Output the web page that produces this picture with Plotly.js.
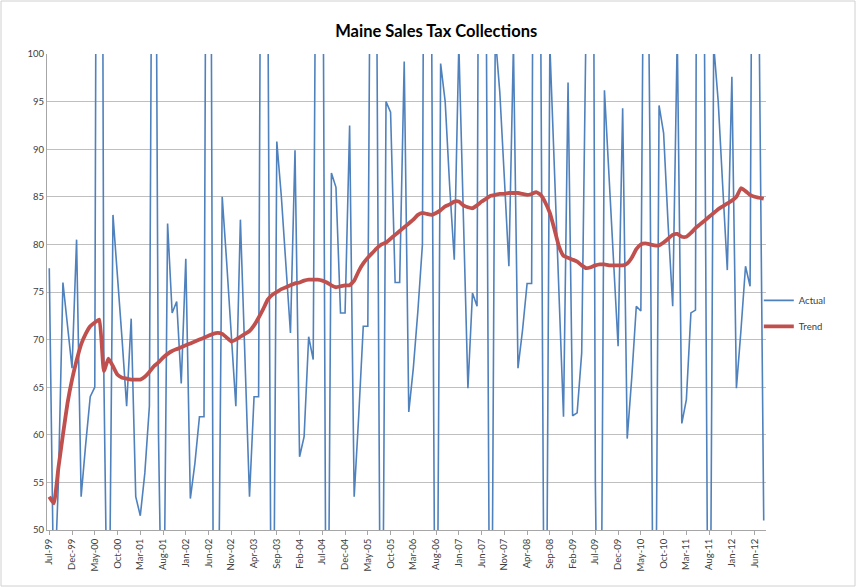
<!DOCTYPE html>
<html>
<head>
<meta charset="utf-8">
<script src="https://cdn.plot.ly/plotly-3.0.1.min.js"></script>
<style>
  html, body { margin: 0; padding: 0; background: #ffffff; }
  #chart { width: 857px; height: 587px; }
</style>
</head>
<body>
<div id="chart"></div>
<script>
// Monthly categories start at Jul-99
const monthNames = ["Jan","Feb","Mar","Apr","May","Jun","Jul","Aug","Sep","Oct","Nov","Dec"];
const startYear = 1999;
const startMonthIndex = 6; // July

// Actual monthly collections (values outside 50-100 are clipped in the chart)
const actual = [
  77.5, 42, 55, 76, 71.5, 67, 80.5, 53.5, 59, 64, 65, 230,
  66, 30, 83.1, 77, 70, 63, 72.2, 53.5, 51.5, 56, 63, 160,
  60, 30, 82.2, 72.8, 74, 65.4, 78.5, 53.3, 57, 61.9, 61.9, 190,
  48, 30, 85, 78, 70, 63, 82.6, 68, 53.5, 64, 64, 180,
  110, 15, 90.8, 85, 78, 70.7, 89.9, 57.7, 59.8, 70.3, 67.9, 150,
  130, 15, 87.5, 86, 72.8, 72.8, 92.5, 53.5, 62, 71.4, 71.4, 150,
  102, 15, 95, 93.9, 76, 76, 99.2, 62.4, 67, 73, 80, 200,
  105, 15, 99, 95, 86, 78.4, 101, 82, 64.9, 74.9, 73.5, 200,
  105, 15, 102, 96, 87, 77.7, 101, 67, 71, 75.9, 75.9, 200,
  103, 15, 101, 88, 75, 61.9, 97, 62, 62.3, 68.6, 105, 200,
  55, 15, 96.2, 87, 78, 69.3, 94.3, 59.6, 66, 73.5, 73, 140,
  90, 15, 94.6, 91.7, 82, 73.5, 102, 61.2, 63.7, 72.8, 73.1, 250,
  100, 15, 101, 95, 86, 77.3, 97.6, 64.9, 71, 77.7, 75.6, 170,
  103, 51
];

// Trend line
const trend = [
  53.5, 52.8, 56.5, 60.0, 63.3, 65.8, 67.8, 69.5, 70.6, 71.4, 71.8, 72.1,
  66.7, 68.0, 67.2, 66.3, 66.0, 65.9, 65.8, 65.8, 65.8, 66.1, 66.6, 67.2,
  67.6, 68.1, 68.5, 68.8, 69.0, 69.2, 69.4, 69.6, 69.8, 70.0, 70.2, 70.4,
  70.6, 70.7, 70.6, 70.2, 69.8, 70.0, 70.3, 70.6, 70.9, 71.5, 72.3, 73.2,
  74.2, 74.7, 75.0, 75.3, 75.5, 75.7, 75.9, 76.0, 76.2, 76.3, 76.3, 76.3,
  76.2, 76.0, 75.7, 75.5, 75.6, 75.7, 75.7, 76.2, 77.2, 78.0, 78.6, 79.1,
  79.6, 80.0, 80.2, 80.6, 81.0, 81.4, 81.8, 82.2, 82.6, 83.1, 83.3, 83.2,
  83.1, 83.3, 83.6, 84.0, 84.2, 84.5, 84.5, 84.1, 83.9, 83.8, 84.1, 84.5,
  84.8, 85.1, 85.2, 85.3, 85.3, 85.4, 85.4, 85.4, 85.3, 85.2, 85.3, 85.5,
  85.2, 84.4, 83.3, 81.6, 79.8, 78.8, 78.6, 78.4, 78.2, 77.8, 77.5, 77.6,
  77.8, 77.9, 77.9, 77.8, 77.8, 77.8, 77.8, 78.0, 78.6, 79.5, 80.0, 80.1,
  80.0, 79.9, 79.9, 80.2, 80.6, 81.0, 81.1, 80.8, 80.8, 81.2, 81.7, 82.1,
  82.5, 82.9, 83.3, 83.7, 84.0, 84.3, 84.6, 85.0, 85.9, 85.6, 85.2, 85.0,
  84.9, 84.8
];

// Tick labels shown on the x axis (every 5th month)
const tickLabels = [
  "Jul-99","Dec-99","May-00","Oct-00","Mar-01","Aug-01","Jan-02","Jun-02",
  "Nov-02","Apr-03","Sep-03","Feb-04","Jul-04","Dec-04","May-05","Oct-05",
  "Mar-06","Aug-06","Jan-07","Jun-07","Nov-07","Apr-08","Sep-08","Feb-09",
  "Jul-09","Dec-09","May-10","Oct-10","Mar-11","Aug-11","Jan-12","Jun-12"
];

const yTicks = [50, 55, 60, 65, 70, 75, 80, 85, 90, 95, 100];

// Build category labels and their positions
const categories = actual.map((_, i) => {
  const m = startMonthIndex + i;
  const y = startYear + Math.floor(m / 12);
  return monthNames[m % 12] + "-" + String(y % 100).padStart(2, "0");
});
const xPos = categories.map((_, i) => i);
const tickPos = tickLabels.map(l => categories.indexOf(l));

const traces = [
  {
    x: xPos, y: actual, text: categories, name: "Actual", type: "scatter", mode: "lines",
    line: { color: "#4F81BD", width: 1.6 }, hoverinfo: "text+y", legendgroup: "a"
  },
  {
    x: xPos, y: trend, text: categories, name: "Trend", type: "scatter", mode: "lines",
    line: { color: "#C0504D", width: 3.8, shape: "spline", smoothing: 0.4 }, hoverinfo: "text+y", legendgroup: "b"
  }
];

const layout = {
  width: 857, height: 587,
  paper_bgcolor: "#ffffff", plot_bgcolor: "#ffffff",
  margin: { l: 47, r: 91, t: 54, b: 57, pad: 0 },
  font: { family: "Lato, 'Liberation Sans', sans-serif", color: "#404040", size: 9 },
  title: {
    text: "<b>Maine Sales Tax Collections</b>",
    font: { family: "Lato, 'Liberation Sans', sans-serif", size: 16.5, color: "#000000" },
    x: 0.509, xref: "container", xanchor: "center",
    y: 0.947, yref: "container", yanchor: "middle"
  },
  xaxis: {
    type: "linear",
    range: [-0.5, categories.length - 0.5],
    tickmode: "array",
    tickvals: tickPos,
    ticktext: tickLabels,
    tickangle: -90,
    tickfont: { size: 9.5, color: "#404040" },
    showgrid: false,
    showline: true, linecolor: "#a6a6a6", linewidth: 1,
    ticks: "outside", ticklen: 4, tickcolor: "#a6a6a6",
    zeroline: false, fixedrange: true
  },
  yaxis: {
    range: [50, 100],
    tickmode: "array",
    tickvals: yTicks,
    ticktext: yTicks.map(String),
    tickfont: { size: 9.5, color: "#404040" },
    showgrid: true, gridcolor: "#bfbfbf", gridwidth: 1,
    showline: true, linecolor: "#a6a6a6", linewidth: 1,
    ticks: "", zeroline: false, fixedrange: true
  },
  legend: {
    x: 0.99, xanchor: "left", y: 0.455, yanchor: "middle",
    font: { size: 9.5, color: "#404040" },
    bgcolor: "rgba(0,0,0,0)", itemwidth: 30, tracegroupgap: 7
  },
  showlegend: true,
  shapes: [
    {
      type: "rect", xref: "paper", yref: "paper",
      x0: -46 / 719, x1: 1 + 89 / 719, y0: -56 / 476, y1: 1 + 53 / 476,
      line: { color: "#d0d0d0", width: 1 }, fillcolor: "rgba(0,0,0,0)", layer: "below"
    }
  ]
};

Plotly.newPlot("chart", traces, layout, { displayModeBar: false, staticPlot: true });
</script>
</body>
</html>
